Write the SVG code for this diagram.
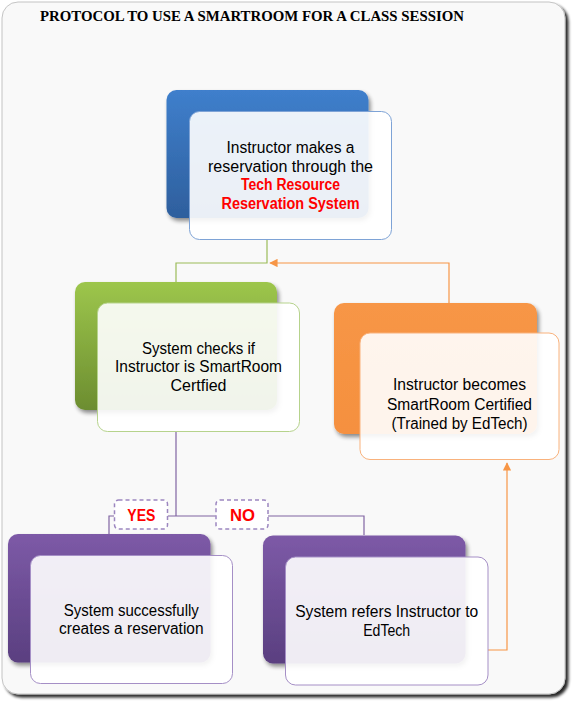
<svg xmlns="http://www.w3.org/2000/svg" width="575" height="710" viewBox="0 0 575 710">
<defs>
<linearGradient id="gBlue" x1="0" y1="0" x2="0" y2="1"><stop offset="0" stop-color="#3f7fcc"/><stop offset="1" stop-color="#2e5f9d"/></linearGradient>
<linearGradient id="gGreen" x1="0" y1="0" x2="0" y2="1"><stop offset="0" stop-color="#9dc64c"/><stop offset="1" stop-color="#6c8d30"/></linearGradient>
<linearGradient id="gOrange" x1="0" y1="0" x2="0" y2="1"><stop offset="0" stop-color="#f79646"/><stop offset="1" stop-color="#f5903f"/></linearGradient>
<linearGradient id="gPurple" x1="0" y1="0" x2="0" y2="1"><stop offset="0" stop-color="#7d5aa7"/><stop offset="1" stop-color="#5a3f80"/></linearGradient>
<filter id="sh" x="-10%" y="-10%" width="125%" height="125%"><feGaussianBlur in="SourceAlpha" stdDeviation="2"/><feOffset dx="2" dy="3" result="b"/><feComponentTransfer><feFuncA type="linear" slope="0.45"/></feComponentTransfer><feMerge><feMergeNode/><feMergeNode in="SourceGraphic"/></feMerge></filter>
<filter id="fsh" x="-5%" y="-5%" width="110%" height="110%"><feGaussianBlur in="SourceAlpha" stdDeviation="1.5"/><feOffset dx="3" dy="3"/><feComponentTransfer><feFuncA type="linear" slope="0.85"/></feComponentTransfer><feMerge><feMergeNode/><feMergeNode in="SourceGraphic"/></feMerge></filter>
<marker id="ah" viewBox="0 0 10 10" refX="9" refY="5" markerWidth="7" markerHeight="7" orient="auto-start-reverse"><path d="M0,0 L10,5 L0,10 z" fill="#f79646"/></marker>
</defs>
<style>
.t{font-family:"Liberation Sans",Arial,sans-serif;font-size:16px;fill:#000;text-anchor:middle}
.r{font-family:"Liberation Sans",Arial,sans-serif;font-size:16px;font-weight:bold;fill:#ff0000;text-anchor:middle}
.front{fill:#fff;fill-opacity:0.9;stroke-width:1}
.conn{fill:none;stroke-width:1.2}
.lbl{fill:#fff;stroke:#9c86c0;stroke-width:1.5;stroke-dasharray:4 3}
</style>
<rect x="2" y="2" width="563" height="692" rx="16" ry="16" fill="#f9f9f9" stroke="#c4c4c4" stroke-width="1" filter="url(#fsh)"/>
<text x="40" y="21" font-family="'Liberation Serif','Times New Roman',serif" font-weight="bold" font-size="14" textLength="424" lengthAdjust="spacingAndGlyphs">PROTOCOL TO USE A SMARTROOM FOR A CLASS SESSION</text>

<g id="connectors">
<path class="conn" stroke="#9bbb59" d="M267 239 V263 H176 V282"/>
<path class="conn" stroke="#f79646" d="M449 303 V263 H270" marker-end="url(#ah)"/>
<path class="conn" stroke="#8064a2" d="M176 432 V516 M167.7 516 H215.7 M267.7 516 H364 V535 M114 516 H109 V534"/>
<path class="conn" stroke="#f79646" d="M488 650 H507 V463" marker-end="url(#ah)"/>
</g>

<g id="node-reservation">
<rect x="166.5" y="90" width="202" height="128" rx="10" fill="url(#gBlue)" filter="url(#sh)"/>
<rect class="front" x="189.5" y="111.5" width="202" height="128" rx="10" stroke="#7ea3d6"/>
<text class="t" x="290.5" y="153" textLength="128" lengthAdjust="spacingAndGlyphs">Instructor makes a</text>
<text class="t" x="290.5" y="171.5" textLength="165" lengthAdjust="spacingAndGlyphs">reservation through the</text>
<text class="r" x="290.5" y="190" textLength="99" lengthAdjust="spacingAndGlyphs">Tech Resource</text>
<text class="r" x="290.5" y="208.5" textLength="138" lengthAdjust="spacingAndGlyphs">Reservation System</text>
</g>

<g id="node-check">
<rect x="75" y="282" width="202" height="128" rx="10" fill="url(#gGreen)" filter="url(#sh)"/>
<rect class="front" x="97.5" y="303" width="202" height="128.5" rx="10" stroke="#b6d38c"/>
<text class="t" x="198.5" y="353.5" textLength="113" lengthAdjust="spacingAndGlyphs">System checks if</text>
<text class="t" x="198.5" y="372" textLength="167" lengthAdjust="spacingAndGlyphs">Instructor is SmartRoom</text>
<text class="t" x="198.5" y="390.5" textLength="56" lengthAdjust="spacingAndGlyphs">Certfied</text>
</g>

<g id="node-certified">
<rect x="334" y="303" width="203" height="131" rx="10" fill="url(#gOrange)" filter="url(#sh)"/>
<rect class="front" x="360" y="333" width="199" height="126.5" rx="10" stroke="#f9b27c"/>
<text class="t" x="459.5" y="390" textLength="133" lengthAdjust="spacingAndGlyphs">Instructor becomes</text>
<text class="t" x="459.5" y="410" textLength="145" lengthAdjust="spacingAndGlyphs">SmartRoom Certified</text>
<text class="t" x="459.5" y="429" textLength="136" lengthAdjust="spacingAndGlyphs">(Trained by EdTech)</text>
</g>

<g id="label-yes">
<rect class="lbl" x="114.5" y="500" width="53" height="29" rx="4"/>
<text class="r" x="141.3" y="521" font-size="17" textLength="28" lengthAdjust="spacingAndGlyphs">YES</text>
</g>
<g id="label-no">
<rect class="lbl" x="216" y="500" width="52" height="29" rx="4"/>
<text class="r" x="242.5" y="521" font-size="17" textLength="25" lengthAdjust="spacingAndGlyphs">NO</text>
</g>

<g id="node-success">
<rect x="8" y="534" width="202.5" height="128.5" rx="10" fill="url(#gPurple)" filter="url(#sh)"/>
<rect class="front" x="30.5" y="555.5" width="202" height="128" rx="10" stroke="#a58fc6"/>
<text class="t" x="131.3" y="615.5" textLength="135" lengthAdjust="spacingAndGlyphs">System successfully</text>
<text class="t" x="131.3" y="634" textLength="144.5" lengthAdjust="spacingAndGlyphs">creates a reservation</text>
</g>

<g id="node-refer">
<rect x="263" y="535.5" width="202.5" height="128" rx="10" fill="url(#gPurple)" filter="url(#sh)"/>
<rect class="front" x="285.5" y="557" width="202.5" height="128" rx="10" stroke="#a58fc6"/>
<text class="t" x="386.7" y="617" textLength="183" lengthAdjust="spacingAndGlyphs">System refers Instructor to</text>
<text class="t" x="386.7" y="635.5" textLength="47" lengthAdjust="spacingAndGlyphs">EdTech</text>
</g>
</svg>
